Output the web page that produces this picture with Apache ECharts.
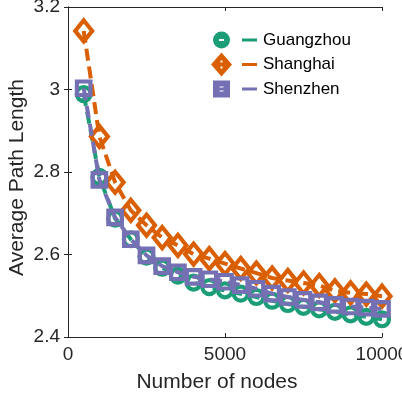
<!DOCTYPE html>
<html>
<head>
<meta charset="utf-8">
<style>
  html, body { margin: 0; padding: 0; background: #fff; }
  #chart { width: 402px; height: 397px; }
</style>
<script src="https://cdn.jsdelivr.net/npm/echarts@6/dist/echarts.min.js"></script>
</head>
<body>
<div id="chart"></div>
<script>
// Network size (x) and measured average path length for three cities
const nodes = [500, 1000, 1500, 2000, 2500, 3000, 3500, 4000, 4500, 5000,
               5500, 6000, 6500, 7000, 7500, 8000, 8500, 9000, 9500, 10000];
const guangzhou = [2.989, 2.788, 2.687, 2.637, 2.595, 2.568, 2.549, 2.532, 2.521, 2.513,
                   2.505, 2.497, 2.488, 2.480, 2.473, 2.467, 2.461, 2.455, 2.449, 2.443];
const shanghai  = [3.142, 2.886, 2.775, 2.707, 2.671, 2.641, 2.622, 2.601, 2.590, 2.578,
                   2.566, 2.555, 2.543, 2.537, 2.531, 2.525, 2.512, 2.507, 2.504, 2.499];
const shenzhen  = [3.003, 2.781, 2.690, 2.637, 2.598, 2.572, 2.557, 2.546, 2.540, 2.534,
                   2.526, 2.517, 2.505, 2.497, 2.490, 2.484, 2.478, 2.474, 2.471, 2.468];
const cityNames = ['Guangzhou', 'Shanghai', 'Shenzhen'];
const xTicks = [0, 5000, 10000];
const yTicks = [2.4, 2.6, 2.8, 3, 3.2];

const FONT = '"Liberation Sans", Arial, Helvetica, sans-serif';
const INK = '#262626';
const COLORS = ['#1b9e77', '#d95f02', '#7570b3'];

// Legend glyphs: open marker on the left, short line sample on the right (46 x 24 box)
const BAR = 'M31 10.5 L46 10.5 L46 13.5 L31 13.5 Z ';
const ICONS = [
  'path://M0 0 M46 24 M2 12 A8.5 8.5 0 1 1 19 12 A8.5 8.5 0 1 1 2 12 Z M8 11 L8 13 L13 13 L13 11 Z ' + BAR,
  'path://M0 0 M46 24 M10.5 0 L21 12 L10.5 24 L0 12 Z M9.5 8 L9.5 10 L11.5 10 L11.5 8 Z M9.5 14 L9.5 16 L11.5 16 L11.5 14 Z ' + BAR,
  'path://M0 0 M46 24 M2 3.5 L19 3.5 L19 20.5 L2 20.5 Z M8.5 9.5 L8.5 10.5 L12.5 10.5 L12.5 9.5 Z M8.5 13.5 L8.5 14.5 L12.5 14.5 L12.5 13.5 Z ' + BAR
];

const SYMBOLS = ['circle', 'diamond', 'rect'];
const SYMBOL_SIZES = [14, [17, 21], 13.5];
const values = [guangzhou, shanghai, shenzhen];

const series = cityNames.map((name, i) => ({
  name: name,
  type: 'line',
  data: nodes.map((n, k) => [n, values[i][k]]),
  symbol: SYMBOLS[i],
  symbolSize: SYMBOL_SIZES[i],
  showAllSymbol: true,
  clip: false,
  itemStyle: { color: 'rgba(255,255,255,0)', borderColor: COLORS[i], borderWidth: 4.2 },
  lineStyle: { color: COLORS[i], width: 4, type: [12, 6] },
  emphasis: { disabled: true },
  z: 2 + i
}));

const tickAxisCommon = {
  axisLine: { show: true, lineStyle: { color: INK, width: 1 } },
  axisTick: { show: true, inside: true, length: 4, lineStyle: { color: INK, width: 1 } },
  splitLine: { show: false }
};

const option = {
  animation: false,
  backgroundColor: '#ffffff',
  grid: { left: 68, right: 20, top: 7, bottom: 60, containLabel: false, outerBoundsMode: 'none' },
  legend: {
    orient: 'vertical',
    left: 211,
    top: 28,
    padding: 0,
    itemWidth: 46,
    itemHeight: 24,
    itemGap: 0.5,
    textStyle: { fontFamily: FONT, fontSize: 17, color: '#000', padding: [0, 0, 0, 1] },
    data: cityNames.map((name, i) => ({
      name: name,
      icon: ICONS[i],
      itemStyle: { color: COLORS[i], borderWidth: 0 }
    })),
    selectedMode: false
  },
  xAxis: [
    Object.assign({
      type: 'value', position: 'bottom', min: 0, max: 10000, interval: 5000,
      name: 'Number of nodes', nameLocation: 'middle', nameGap: 35, nameMoveOverlap: false,
      nameTextStyle: { fontFamily: FONT, fontSize: 21, color: INK, padding: [0, 16, 0, 0] },
      axisLabel: {
        fontFamily: FONT, fontSize: 19, color: INK, margin: 8,
        formatter: v => xTicks.includes(v) ? String(v) : ''
      }
    }, tickAxisCommon),
    Object.assign({
      type: 'value', position: 'top', min: 0, max: 10000, interval: 5000,
      axisLabel: { show: false }
    }, tickAxisCommon)
  ],
  yAxis: [
    Object.assign({
      type: 'value', position: 'left', min: 2.4, max: 3.2, interval: 0.2,
      name: 'Average Path Length', nameLocation: 'middle', nameGap: 40, nameMoveOverlap: false,
      nameTextStyle: { fontFamily: FONT, fontSize: 21, color: INK, padding: [0, 11, 0, 0] },
      axisLabel: {
        fontFamily: FONT, fontSize: 19, color: INK, margin: 8,
        formatter: v => {
          const t = yTicks.find(y => Math.abs(y - v) < 1e-9);
          return t === undefined ? '' : String(t);
        }
      }
    }, tickAxisCommon),
    Object.assign({
      type: 'value', position: 'right', min: 2.4, max: 3.2, interval: 0.2,
      axisLabel: { show: false }
    }, tickAxisCommon)
  ],
  series: series
};

const chart = echarts.init(document.getElementById('chart'), null, { renderer: 'canvas' });
chart.setOption(option);
</script>
</body>
</html>
